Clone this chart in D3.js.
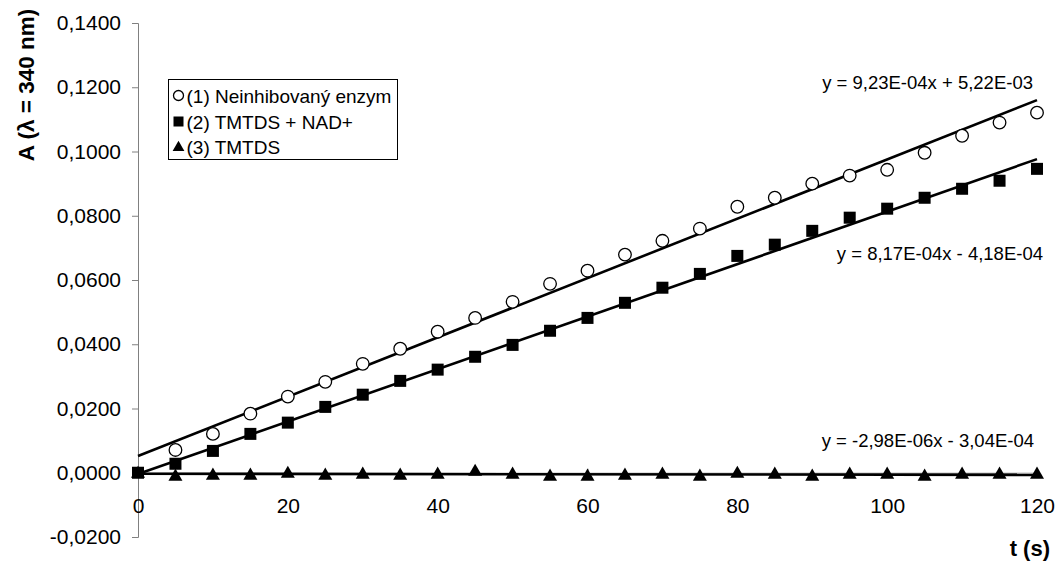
<!DOCTYPE html>
<html>
<head>
<meta charset="utf-8">
<script src="https://cdnjs.cloudflare.com/ajax/libs/d3/7.8.5/d3.min.js"></script>
<style>
  body { margin: 0; background: #fff; }
  svg { font-family: "Liberation Sans", Arial, sans-serif; }
</style>
</head>
<body>
<svg id="chart" width="1057" height="564"></svg>
<script>
// time points (s)
const times = d3.range(0, 125, 5);
const timesNoZero = times.slice(1);

// (1) uninhibited enzyme, open circles (x = 5..120)
const seriesFree = [0.0071, 0.0121, 0.0184, 0.0237, 0.0283, 0.0339, 0.0386, 0.0439, 0.0482, 0.0532,
  0.0588, 0.0629, 0.0679, 0.0722, 0.0760, 0.0828, 0.0856, 0.0900, 0.0925, 0.0943, 0.0996, 0.1049, 0.1090, 0.1121];
// (2) TMTDS + NAD+, squares (x = 0..120)
const seriesNad = [0.0000, 0.0028, 0.0068, 0.0121, 0.0156, 0.0205, 0.0243, 0.0286, 0.0321, 0.0361, 0.0398,
  0.0442, 0.0482, 0.0529, 0.0576, 0.0619, 0.0675, 0.0710, 0.0753, 0.0794, 0.0822, 0.0856, 0.0884, 0.0909, 0.0946];
// (3) TMTDS, triangles (x = 0..120)
const seriesTmtds = [0.0000, -0.0009, -0.0006, -0.0006, 0.0000, -0.0006, -0.0003, -0.0006, -0.0003, 0.0006, -0.0003,
  -0.0009, -0.0009, -0.0006, -0.0003, -0.0009, 0.0000, -0.0003, -0.0009, -0.0003, -0.0003, -0.0009, -0.0003, -0.0003, -0.0003];

// linear trendlines: [slope, intercept]
const fits = [[9.23e-4, 5.22e-3], [8.17e-4, -4.18e-4], [-2.98e-6, -3.04e-4]];
const fitLabels = ["y = 9,23E-04x + 5,22E-03", "y = 8,17E-04x - 4,18E-04", "y = -2,98E-06x - 3,04E-04"];
const legendLabels = ["(1) Neinhibovaný enzym", "(2) TMTDS + NAD+", "(3) TMTDS"];

const yTicks = [-0.02, 0, 0.02, 0.04, 0.06, 0.08, 0.10, 0.12, 0.14];
const xTicks = [0, 20, 40, 60, 80, 100, 120];

const svg = d3.select("#chart");
const x = d3.scaleLinear().domain([0, 120]).range([138, 1037]);
const y = d3.scaleLinear().domain([-0.02, 0.14]).range([537, 23]);

const fmtY = v => d3.format(".4f")(v).replace(".", ",").replace("−", "-");

// y axis
const yAxis = svg.append("g")
  .attr("transform", `translate(${x(0)},0)`)
  .call(d3.axisLeft(y).tickValues(yTicks).tickFormat(fmtY).tickSize(6).tickPadding(11));
yAxis.select(".domain").attr("stroke", "#808080");
yAxis.selectAll(".tick line").attr("stroke", "#808080");
yAxis.selectAll("text").attr("font-size", 21).attr("fill", "#000")
  .attr("font-family", "Liberation Sans, Arial, sans-serif");

// x axis at y = 0, ticks crossing
const xAxis = svg.append("g")
  .attr("transform", `translate(0,${y(0)})`)
  .call(d3.axisBottom(x).tickValues(xTicks).tickSize(0).tickPadding(25).tickSizeOuter(0));
xAxis.select(".domain").attr("stroke", "#808080");
xAxis.selectAll(".tick line").attr("y1", -4).attr("y2", 4).attr("stroke", "#808080");
xAxis.selectAll("text").attr("font-size", 21).attr("fill", "#000")
  .attr("font-family", "Liberation Sans, Arial, sans-serif");

// axis titles
svg.append("text")
  .attr("transform", "translate(34,85) rotate(-90)")
  .attr("text-anchor", "middle")
  .attr("font-size", 22.5).attr("font-weight", "bold")
  .text("A (λ = 340 nm)");
svg.append("text")
  .attr("x", 1050).attr("y", 556)
  .attr("text-anchor", "end")
  .attr("font-size", 22).attr("font-weight", "bold")
  .text("t (s)");

// trendlines
const line = d3.line().x(d => x(d[0])).y(d => y(d[1]));
fits.forEach(f => {
  svg.append("path")
    .datum([0, 120].map(t => [t, f[0] * t + f[1]]))
    .attr("d", line)
    .attr("fill", "none")
    .attr("stroke", "#000")
    .attr("stroke-width", 2.6);
});

// markers
const tri = d3.symbol().type(d3.symbolTriangle).size(85);

svg.append("g").selectAll("path")
  .data(times.map((t, i) => [t, seriesTmtds[i]]))
  .join("path")
  .attr("d", tri)
  .attr("transform", d => `translate(${x(d[0])},${y(d[1]) + 1})`)
  .attr("fill", "#000");

svg.append("g").selectAll("rect")
  .data(times.map((t, i) => [t, seriesNad[i]]))
  .join("rect")
  .attr("x", d => x(d[0]) - 6).attr("y", d => y(d[1]) - 6)
  .attr("width", 12).attr("height", 12)
  .attr("fill", "#000");

svg.append("g").selectAll("circle")
  .data(timesNoZero.map((t, i) => [t, seriesFree[i]]))
  .join("circle")
  .attr("cx", d => x(d[0])).attr("cy", d => y(d[1]))
  .attr("r", 6.3)
  .attr("fill", "#fff")
  .attr("stroke", "#000")
  .attr("stroke-width", 1.3);

// trendline equations
const eqPos = [[1033, 89], [1043, 260], [1034, 447]];
fitLabels.forEach((s, i) => {
  svg.append("text")
    .attr("x", eqPos[i][0]).attr("y", eqPos[i][1])
    .attr("text-anchor", "end")
    .attr("font-size", 18.5)
    .text(s);
});

// legend
const lg = svg.append("g").attr("transform", "translate(168.5,79.5)");
lg.append("rect").attr("width", 229).attr("height", 80)
  .attr("fill", "#fff").attr("stroke", "#000").attr("stroke-width", 1);
const rowY = [16, 42, 67];
lg.append("circle").attr("cx", 10).attr("cy", rowY[0]).attr("r", 5)
  .attr("fill", "#fff").attr("stroke", "#000").attr("stroke-width", 1.3);
lg.append("rect").attr("x", 5).attr("y", rowY[1] - 5).attr("width", 10).attr("height", 10).attr("fill", "#000");
lg.append("path").attr("d", d3.symbol().type(d3.symbolTriangle).size(60))
  .attr("transform", `translate(10,${rowY[2] + 1})`).attr("fill", "#000");
legendLabels.forEach((s, i) => {
  lg.append("text").attr("x", 18).attr("y", rowY[i] + 7)
    .attr("font-size", 19).text(s);
});
</script>
</body>
</html>
